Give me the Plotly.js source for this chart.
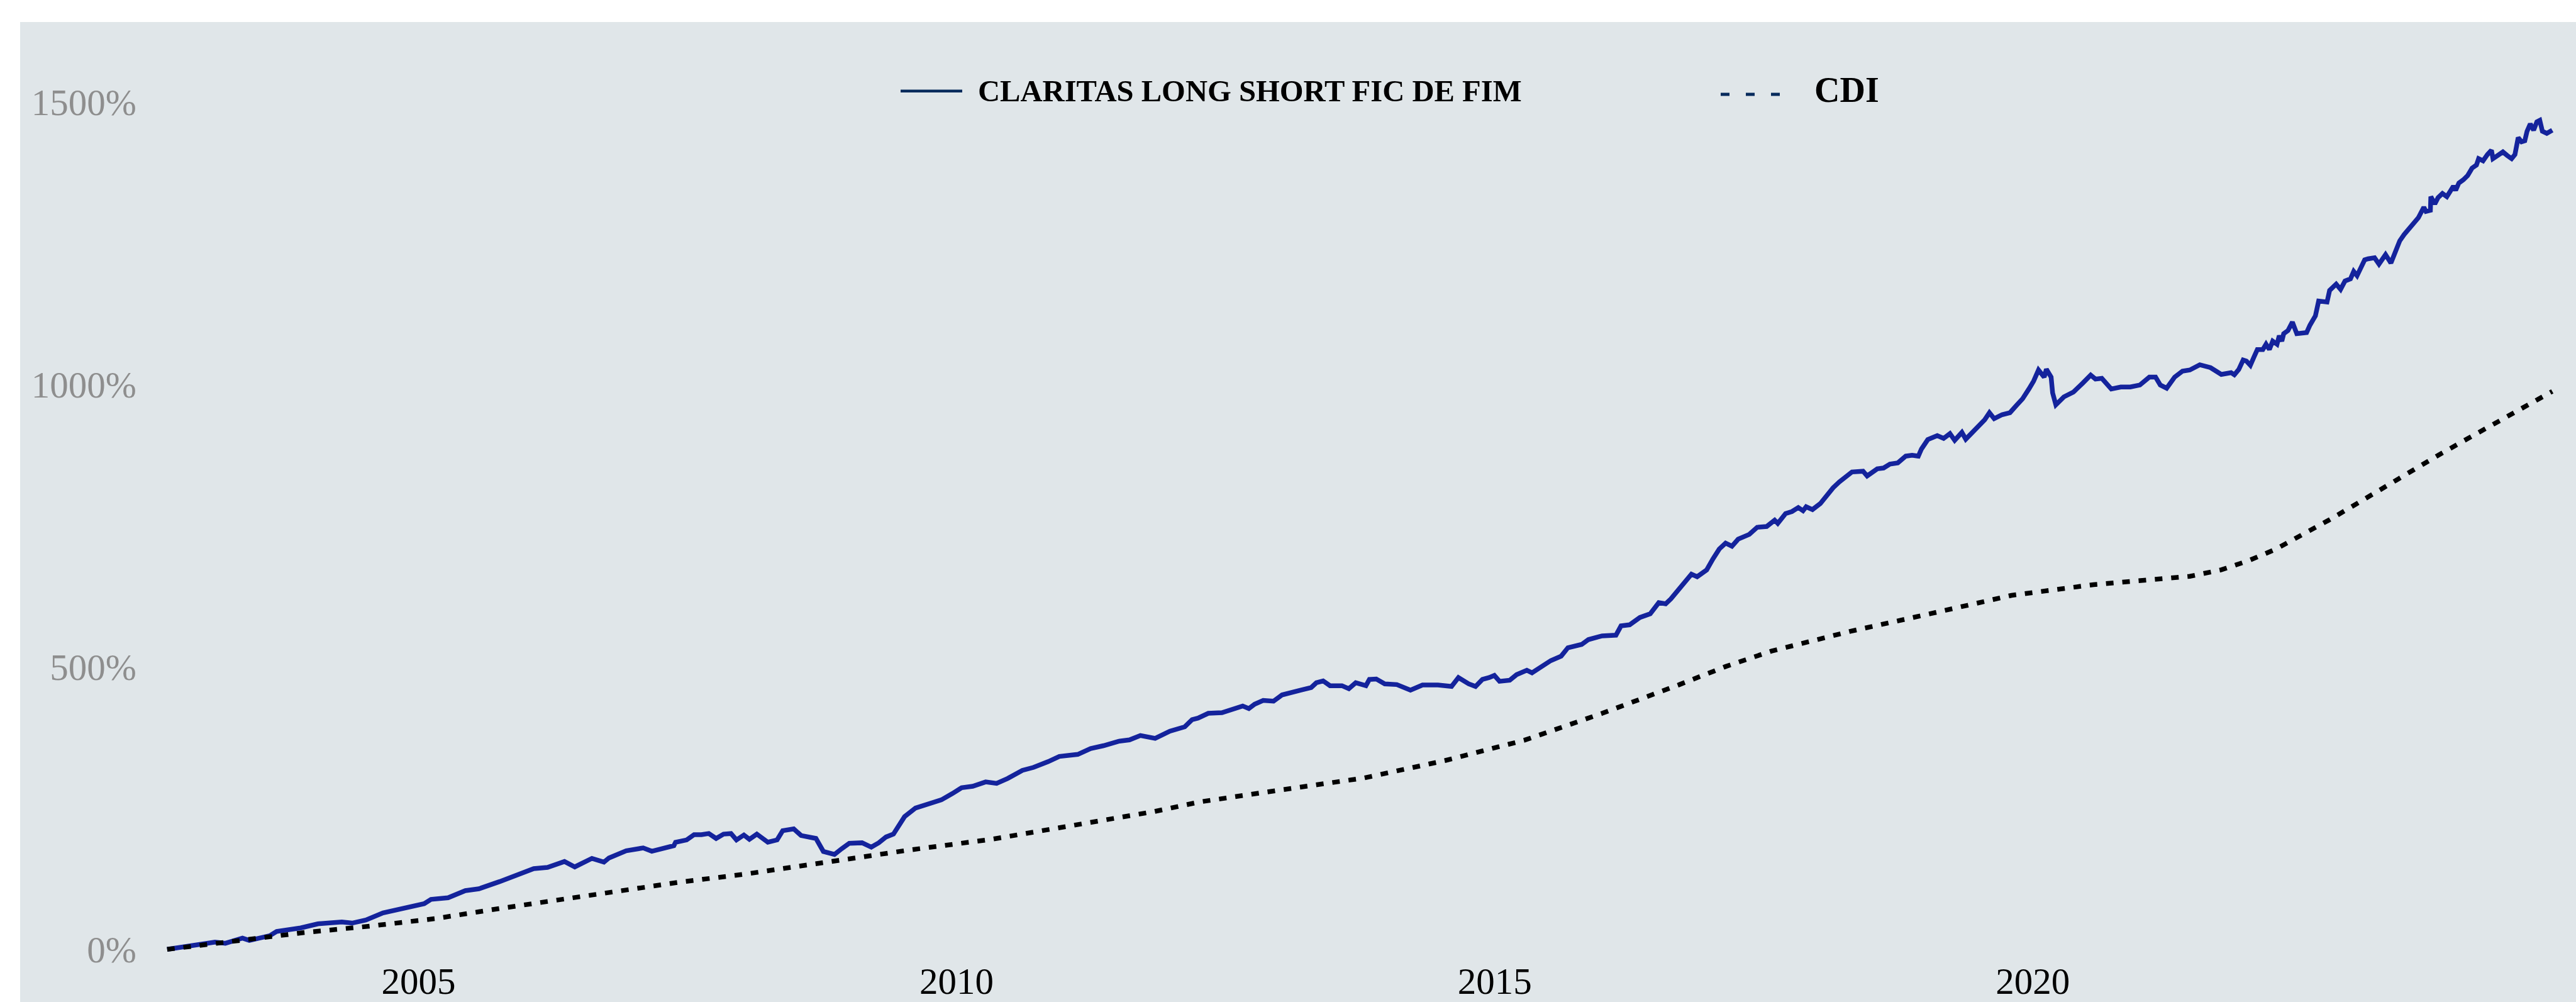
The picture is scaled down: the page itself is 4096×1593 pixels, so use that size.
<!DOCTYPE html>
<html>
<head>
<meta charset="utf-8">
<script src="https://cdn.plot.ly/plotly-3.0.1.min.js"></script>
<style>
  html, body { margin: 0; padding: 0; background: #ffffff; width: 4096px; height: 1593px; overflow: hidden; }
  #chart { position: absolute; left: 32px; top: 35px; width: 4064px; height: 1558px; }
</style>
</head>
<body>
<div id="chart"></div>
<script>
// ---- series names ----
const seriesNames = ['CLARITAS LONG SHORT FIC DE FIM', 'CDI'];

// ---- CLARITAS LONG SHORT FIC DE FIM (cumulative return, %), x in decimal years ----
const claritasYears = [
  2002.666,2002.888,2003.111,2003.207,2003.366,2003.430,2003.620,2003.684,2003.907,2004.066,
  2004.289,2004.384,2004.512,2004.671,2004.798,2005.053,2005.116,2005.275,2005.435,2005.562,
  2005.753,2005.944,2006.071,2006.199,2006.357,2006.453,2006.612,2006.724,2006.771,2006.931,
  2007.089,2007.169,2007.253,2007.374,2007.390,2007.493,2007.562,2007.630,2007.699,2007.767,
  2007.836,2007.905,2007.956,2008.025,2008.076,2008.145,2008.247,2008.333,2008.385,2008.487,
  2008.556,2008.693,2008.762,2008.865,2008.933,2009.002,2009.121,2009.207,2009.276,2009.344,
  2009.413,2009.464,2009.516,2009.618,2009.721,2009.858,2009.961,2010.047,2010.150,2010.270,
  2010.372,2010.475,2010.612,2010.715,2010.852,2010.955,2011.127,2011.246,2011.366,2011.504,
  2011.607,2011.709,2011.846,2011.983,2012.121,2012.189,2012.244,2012.339,2012.466,2012.562,
  2012.658,2012.715,2012.769,2012.848,2012.944,2013.023,2013.103,2013.198,2013.294,2013.342,
  2013.405,2013.469,2013.580,2013.644,2013.708,2013.803,2013.835,2013.899,2013.978,2014.090,
  2014.217,2014.329,2014.472,2014.599,2014.663,2014.758,2014.822,2014.886,2014.949,2014.997,
  2015.045,2015.140,2015.204,2015.299,2015.347,2015.427,2015.522,2015.618,2015.681,2015.809,
  2015.872,2015.999,2016.127,2016.174,2016.254,2016.349,2016.445,2016.524,2016.588,2016.636,
  2016.731,2016.827,2016.880,2016.968,2017.026,2017.085,2017.144,2017.203,2017.261,2017.364,
  2017.438,2017.526,2017.600,2017.629,2017.702,2017.761,2017.820,2017.864,2017.893,2017.952,
  2018.025,2018.084,2018.143,2018.202,2018.260,2018.319,2018.422,2018.460,2018.554,2018.613,
  2018.672,2018.745,2018.819,2018.878,2018.936,2018.965,2019.024,2019.112,2019.171,2019.230,
  2019.274,2019.341,2019.377,2019.435,2019.494,2019.553,2019.597,2019.641,2019.715,2019.788,
  2019.847,2019.905,2019.964,2020.008,2020.053,2020.106,2020.126,2020.170,2020.184,2020.214,
  2020.288,2020.376,2020.464,2020.537,2020.581,2020.640,2020.728,2020.816,2020.904,2020.993,
  2021.081,2021.139,2021.183,2021.242,2021.316,2021.389,2021.457,2021.550,2021.650,2021.750,
  2021.841,2021.871,2021.912,2021.932,2021.953,2021.983,2022.020,2022.054,2022.085,2022.136,
  2022.166,2022.197,2022.228,2022.268,2022.289,2022.313,2022.330,2022.370,2022.411,2022.452,
  2022.493,2022.543,2022.574,2022.625,2022.655,2022.696,2022.733,2022.757,2022.818,2022.859,
  2022.900,2022.951,2022.981,2023.012,2023.053,2023.083,2023.114,2023.175,2023.216,2023.277,
  2023.327,2023.368,2023.409,2023.450,2023.501,2023.531,2023.582,2023.633,2023.653,2023.694,
  2023.698,2023.735,2023.765,2023.806,2023.847,2023.878,2023.908,2023.929,2023.959,2024.000,
  2024.040,2024.081,2024.122,2024.142,2024.183,2024.224,2024.261,2024.275,2024.326,2024.367,
  2024.407,2024.448,2024.479,2024.509,2024.540,2024.570,2024.591,2024.621,2024.652,2024.682,
  2024.709,2024.733,2024.774,2024.825
];
const claritasValues = [
  0,6.6,12.9,10.8,20.0,15.8,24.2,31.8,38.0,45.2,
  48.6,46.5,51.9,64.5,70.4,80.9,88.5,91.4,104.0,107.3,
  119.9,132.6,143.0,145.2,155.6,146.0,161.1,154.4,161.9,174.6,
  179.6,173.7,178.4,183.6,189.7,193.8,203.0,203.0,205.1,196.4,
  204.1,205.1,193.8,202.5,194.9,204.1,189.7,193.8,210.2,213.3,
  201.5,196.4,173.3,168.1,178.4,187.7,188.7,181.0,188.7,199.0,
  204.1,218.5,234.9,250.3,256.5,264.7,275.9,286.2,288.8,296.5,
  293.9,302.6,317.0,322.2,332.4,341.6,345.2,355.5,360.6,368.3,
  370.9,378.6,373.5,386.3,394.0,406.8,409.4,417.9,419.1,425.7,
  430.9,426.3,434.2,440.7,439.4,450.5,455.1,459.0,463.6,472.1,
  475.3,466.8,466.8,461.6,472.1,466.8,477.9,478.6,470.1,468.8,
  459.0,468.1,468.1,465.5,481.2,470.1,465.5,477.9,481.2,485.1,
  474.6,476.6,486.4,494.2,489.7,499.5,511.3,519.1,534.1,540.0,
  548.5,555.0,556.3,572.7,574.7,587.7,594.2,613.8,611.8,620.4,
  643.2,664.2,659.8,671.7,691.2,708.8,719.3,713.7,726.3,734.7,
  747.3,748.7,759.9,754.2,771.7,775.2,782.3,776.6,783.6,778.7,
  789.3,804.6,817.2,827.8,836.2,845.3,846.6,838.2,850.8,852.3,
  859.2,861.4,873.3,874.7,873.3,885.9,902.6,909.6,904.7,913.1,
  901.2,915.3,903.3,915.3,927.8,937.6,950.2,939.7,946.7,950.2,
  962.8,974.8,992.2,1006.2,1025.8,1013.2,1027.2,1013.2,985.2,964.2,
  978.2,986.6,1002.7,1016.7,1009.7,1011.1,992.2,995.7,995.7,999.2,
  1013.2,1013.2,999.2,993.6,1013.2,1023.7,1025.8,1035.0,1030.0,1018.0,
  1021.1,1017.3,1026.6,1037.8,1043.5,1041.6,1034.1,1049.0,1062.1,1062.1,
  1071.5,1062.1,1077.0,1071.5,1086.4,1077.0,1090.1,1095.7,1110.6,1090.1,
  1090.1,1092.0,1105.1,1121.8,1147.9,1146.1,1146.1,1166.7,1177.9,1168.5,
  1183.4,1187.2,1200.3,1192.8,1209.6,1220.8,1222.6,1224.5,1213.3,1230.1,
  1215.2,1235.7,1254.4,1265.6,1276.8,1286.1,1295.4,1314.1,1306.6,1308.5,
  1332.8,1319.7,1330.9,1338.3,1332.8,1342.1,1351.4,1344.0,1357.0,1362.6,
  1370.1,1383.2,1388.8,1400.0,1396.2,1407.4,1414.9,1400.0,1407.4,1411.9,
  1405.6,1400.0,1407.4,1437.2,1429.8,1431.7,1448.5,1461.6,1450.4,1465.3,
  1467.9,1448.5,1444.8,1450.4
];

// ---- CDI (cumulative return, %) ----
const cdiYears = [
  2002.666,2002.713,2003.327,2003.932,2004.543,2005.154,2005.759,2006.364,2006.975,2007.433,
  2008.035,2008.796,2009.557,2010.321,2011.082,2011.840,2012.260,2012.583,2013.023,2013.787,
  2014.536,2015.274,2015.999,2016.716,2017.145,2017.570,2018.305,2019.054,2019.803,2020.564,
  2021.328,2021.457,2021.750,2022.000,2022.250,2022.500,2022.750,2023.000,2023.250,2023.500,
  2023.750,2024.000,2024.250,2024.560,2024.692,2024.804,2024.825
];
const cdiValues = [
  0,1.1,13.7,29.6,41.0,54.4,72.5,89.7,107.3,119.1,
  133.2,154.3,175.8,194.8,218.5,244.1,261.1,270.8,282.6,303.5,
  334.2,370.2,417.9,468.8,500.8,528.1,563.2,594.6,626.8,645.8,
  657.6,660.5,672.0,688.0,708.0,733.0,760.0,788.0,817.0,846.0,
  873.0,900.0,926.0,959.5,973.6,985.6,988.0
];

// ---- axis ticks ----
const yTickVals = [0, 500, 1000, 1500];
const yTickText = ['0%', '500%', '1000%', '1500%'];
const xTickYears = [2005, 2010, 2015, 2020];
const xTickText = ['2005', '2010', '2015', '2020'];

function yearToDate(y) {
  const Y = Math.floor(y);
  const s = Date.UTC(Y, 0, 1), e = Date.UTC(Y + 1, 0, 1);
  const d = new Date(s + (y - Y) * (e - s));
  return d.toISOString().slice(0, 19).replace('T', ' ');
}

const FONT = 'Liberation Serif, Times New Roman, serif';
const W = 4064, H = 1558;
const M = { l: 200, r: 0, t: 60, b: 73 };
const PW = W - M.l - M.r, PH = H - M.t - M.b;
const px2x = p => (p - M.l) / PW;
const py2y = p => 1 - (p - M.t) / PH;

const traces = [
  {
    type: 'scatter', mode: 'lines', name: seriesNames[0],
    x: claritasYears.map(yearToDate), y: claritasValues,
    line: { color: '#14239c', width: 7.5 }, showlegend: false, hoverinfo: 'skip'
  },
  {
    type: 'scatter', mode: 'lines', name: seriesNames[1],
    x: cdiYears.map(yearToDate), y: cdiValues,
    line: { color: '#000000', width: 7.5, dash: '12px,14px' }, showlegend: false, hoverinfo: 'skip'
  }
];

const layout = {
  width: W, height: H,
  margin: M,
  paper_bgcolor: '#e0e6e9',
  plot_bgcolor: '#e0e6e9',
  showlegend: false,
  xaxis: {
    type: 'date',
    range: [yearToDate(2002.4683), yearToDate(2025.045)],
    tickvals: xTickYears.map(yearToDate),
    ticktext: xTickText,
    showgrid: false, zeroline: false, showline: false, ticks: '',
    tickfont: { family: FONT, size: 59, color: '#000000' }
  },
  yaxis: {
    range: [-11.9, 1575.1],
    tickvals: yTickVals,
    ticktext: yTickText,
    ticklabelstandoff: 14,
    showgrid: false, zeroline: false, showline: false, ticks: '',
    tickfont: { family: FONT, size: 59, color: '#8e8e8e' }
  },
  shapes: [
    { type: 'line', xref: 'paper', yref: 'paper', x0: px2x(1400), x1: px2x(1498), y0: py2y(109.7), y1: py2y(109.7),
      line: { color: '#062b5c', width: 4.4 } },
    { type: 'line', xref: 'paper', yref: 'paper', x0: px2x(2704), x1: px2x(2798), y0: py2y(115), y1: py2y(115),
      line: { color: '#062b5c', width: 5, dash: '14px,26px' } }
  ],
  annotations: [
    { xref: 'paper', yref: 'paper', x: px2x(1521), y: py2y(110.4), xanchor: 'left', yanchor: 'middle',
      text: seriesNames[0], showarrow: false, font: { family: FONT, size: 48.6, color: '#000000', weight: 700 } },
    { xref: 'paper', yref: 'paper', x: px2x(2851), y: py2y(107.7), xanchor: 'left', yanchor: 'middle',
      text: seriesNames[1], showarrow: false, font: { family: FONT, size: 56, color: '#000000', weight: 700 } }
  ]
};

Plotly.newPlot('chart', traces, layout, { displayModeBar: false, staticPlot: true });
</script>
</body>
</html>
